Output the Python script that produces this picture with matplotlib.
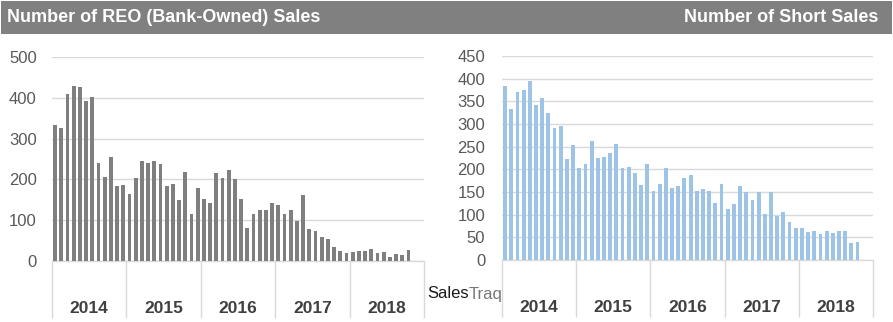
import matplotlib
matplotlib.use("Agg")
import matplotlib.pyplot as plt
import numpy as np

years = ["2014", "2015", "2016", "2017", "2018"]
reo_sales = [334, 325, 409, 429, 426, 392, 401, 241, 206, 254, 184, 186,
             165, 203, 246, 240, 246, 237, 184, 189, 149, 217, 114, 179,
             151, 143, 215, 204, 222, 200, 153, 81, 116, 124, 124, 143,
             138, 116, 126, 98, 161, 78, 73, 59, 54, 35, 24, 20,
             22, 25, 24, 30, 20, 22, 11, 18, 14, 28]
short_sales = [384, 332, 370, 376, 394, 343, 357, 325, 292, 296, 222, 254,
               203, 212, 262, 226, 227, 235, 256, 203, 206, 193, 165, 212,
               152, 168, 204, 159, 163, 181, 188, 152, 157, 152, 126, 168,
               112, 123, 163, 150, 132, 149, 101, 149, 98, 105, 84, 71,
               71, 62, 64, 57, 64, 60, 64, 64, 38, 40]
reo_ticks = [0, 100, 200, 300, 400, 500]
short_ticks = [0, 50, 100, 150, 200, 250, 300, 350, 400, 450]

plt.rcParams['font.family'] = ['Liberation Sans', 'DejaVu Sans']

W, H = 893, 322
fig = plt.figure(figsize=(W / 100, H / 100), dpi=100)
fig.patch.set_facecolor("white")

# header band
hdr = fig.add_axes([1 / W, 1 - 34 / H, 891 / W, 33 / H])
hdr.set_facecolor("#808080")
hdr.set_xlim(0, 891); hdr.set_ylim(0, 33)
hdr.set_xticks([]); hdr.set_yticks([])
for s in hdr.spines.values():
    s.set_visible(False)
hdr.text(6, 17, "Number of REO (Bank-Owned) Sales",
         color="white", fontsize=13, fontweight="bold", va="center", ha="left")
hdr.text(877, 17, "Number of Short Sales",
         color="white", fontsize=13, fontweight="bold", va="center", ha="right")


def draw(rect, values, color, ticks, pad):
    ax = fig.add_axes(rect)
    x = np.arange(len(values))
    ax.bar(x, values, width=0.62, color=color, zorder=3)
    ax.set_xlim(-0.5, 59.5)
    ax.set_ylim(0, ticks[-1])
    ax.set_yticks(ticks)
    ax.set_yticklabels([str(t) for t in ticks])
    ax.yaxis.grid(True, color="#d9d9d9", linewidth=1, zorder=0)
    ax.tick_params(axis="y", length=0, pad=pad, labelsize=12, labelcolor="#595959")
    for s in ["top", "right", "left"]:
        ax.spines[s].set_visible(False)
    ax.spines["bottom"].set_color("#d9d9d9")
    ax.spines["bottom"].set_linewidth(1)
    ax.set_xticks([-0.5 + 12 * k for k in range(6)], minor=True)
    ax.tick_params(axis="x", which="minor", length=41, color="#d9d9d9", width=1, direction="out")
    ax.set_xticks([5.5 + 12 * k for k in range(5)])
    ax.set_xticklabels(years)
    ax.tick_params(axis="x", which="major", length=0, pad=29, labelsize=12.5, labelcolor="#404040")
    for lab in ax.get_xticklabels():
        lab.set_fontweight("bold")
    return ax


draw([52 / W, (H - 261) / H, 372 / W, 204 / H], reo_sales, "#7f7f7f", reo_ticks, 11)
draw([502 / W, (H - 260) / H, 371 / W, 204 / H], short_sales, "#9dc3e6", short_ticks, 12)

# logo
t1 = fig.text(427 / W, (H - 294) / H, "Sales", fontsize=12, color="#1a1a1a",
              va="center", ha="left")
fig.canvas.draw()
bb = t1.get_window_extent(renderer=fig.canvas.get_renderer())
fig.text(bb.x1 / W, (H - 294) / H, "Traq", fontsize=12, color="#777777",
         va="center", ha="left")

fig.savefig("out.png", dpi=100, facecolor="white")
